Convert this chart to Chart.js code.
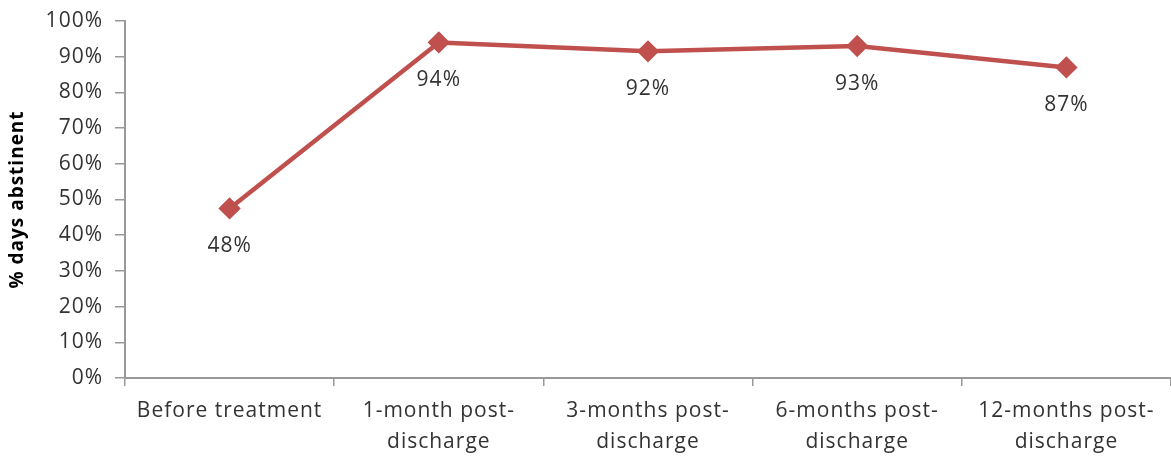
<!DOCTYPE html>
<html>
<head>
<meta charset="utf-8">
<script src="https://cdn.jsdelivr.net/npm/chart.js@4"></script>
<style>
  html, body { margin: 0; padding: 0; background: #fff; }
  #wrap { width: 1171px; height: 457px; }
</style>
</head>
<body>
<div id="wrap"><canvas id="chart" width="1171" height="457"></canvas></div>
<script>
const categories = [
    ['Before treatment'],
    ['1-month post-', 'discharge'],
    ['3-months post-', 'discharge'],
    ['6-months post-', 'discharge'],
    ['12-months post-', 'discharge']
];
const abstinent = [47.5, 94, 91.5, 93, 87];
const valueLabels = ['48%', '94%', '92%', '93%', '87%'];

const RED  = '#c0504d';
const AXIS = '#999999';
const FONT = '"Open Sans", Lato, sans-serif';

// texte un peu espacé comme dans la référence
const spacing = {
    id: 'spacing',
    beforeLayout(chart) { chart.ctx.letterSpacing = '1px'; },
    beforeDraw(chart)   { chart.ctx.letterSpacing = '1px'; }
};

// étiquettes sous chaque point
const pointLabels = {
    id: 'pointLabels',
    afterDatasetsDraw(chart) {
        const { ctx } = chart;
        const meta = chart.getDatasetMeta(0);
        ctx.save();
        ctx.font = '21px ' + FONT;
        ctx.fillStyle = '#333';
        ctx.textAlign = 'center';
        ctx.textBaseline = 'middle';
        meta.data.forEach((pt, i) => {
            ctx.fillText(valueLabels[i], pt.x, pt.y + 38);
        });
        ctx.restore();
    }
};

new Chart(document.getElementById('chart').getContext('2d'), {
    type: 'line',
    data: {
        labels: categories,
        datasets: [{
            data: abstinent,
            borderColor: RED,
            backgroundColor: RED,
            borderWidth: 4.5,
            pointStyle: 'rectRot',
            pointRadius: 8,
            pointHoverRadius: 8,
            tension: 0
        }]
    },
    options: {
        responsive: false,
        animation: false,
        events: [],
        plugins: { legend: { display: false }, tooltip: { enabled: false } },
        layout: { autoPadding: false, padding: { top: 21, right: 0, left: 0, bottom: 0 } },
        scales: {
            x: {
                offset: true,
                grid: { offset: true, drawOnChartArea: false, drawTicks: true, tickLength: 8, color: AXIS, lineWidth: 1.5 },
                border: { color: AXIS, width: 2 },
                ticks: { color: '#333', font: { family: FONT, size: 21, lineHeight: 1.5 }, padding: 9, maxRotation: 0, autoSkip: false },
                afterFit(s) { s.height = 79; s.paddingLeft = 0; s.paddingRight = 0; }
            },
            y: {
                min: 0,
                max: 100,
                grid: { drawOnChartArea: false, drawTicks: true, tickLength: 10, color: AXIS, lineWidth: 1.5 },
                border: { color: AXIS, width: 2 },
                ticks: {
                    stepSize: 10,
                    color: '#333',
                    padding: 12,
                    font: { family: FONT, size: 21 },
                    callback: v => v + '%'
                },
                title: {
                    display: true,
                    text: '% days abstinent',
                    color: '#000',
                    font: { family: FONT, size: 19, weight: 'bold' },
                    padding: { top: 6, bottom: 4 }
                },
                afterFit(s) { s.width = 125; s.paddingTop = 0; s.paddingBottom = 0; }
            }
        }
    },
    plugins: [spacing, pointLabels]
});
</script>
</body>
</html>
